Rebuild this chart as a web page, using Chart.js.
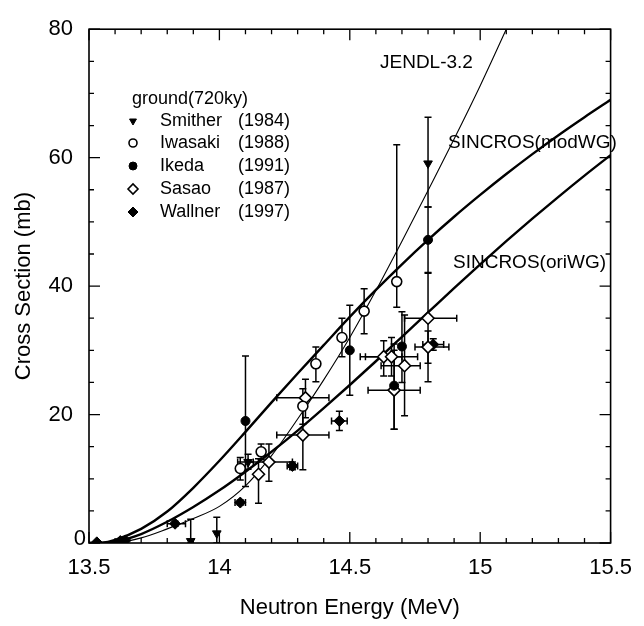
<!DOCTYPE html>
<html><head><meta charset="utf-8">
<script src="https://cdn.jsdelivr.net/npm/chart.js@4/dist/chart.umd.min.js"></script>
<style>html,body{margin:0;padding:0;background:#fff}</style>
</head><body>
<canvas id="c" width="644" height="626"></canvas>
<script>
// ---------- calculated curves ----------
const jendlE = [13.5,13.6,13.7,13.8,13.9,14.0,14.1,14.2,14.3,14.4,14.5,14.6,14.7,14.8,14.9,15.0,15.1,15.15];
const jendlS = [0,0.05,0.8,2.2,3.8,5.7,8.9,13.6,19.3,25.4,32.0,39.3,47.0,54.9,62.9,71.2,80.0,84.5];
const modE = [13.5,13.55,13.6,13.7,13.8,13.9,14.0,14.1,14.2,14.3,14.4,14.5,14.6,14.7,14.8,14.9,15.0,15.1,15.2,15.3,15.4,15.5];
const modS = [0,0.05,0.5,2.2,4.9,8.6,12.8,17.3,21.9,26.4,30.8,35.2,39.4,43.4,47.2,50.8,54.2,57.45,60.55,63.5,66.3,69.0];
const oriE = [13.5,13.55,13.6,13.7,13.8,13.9,14.0,14.1,14.2,14.3,14.4,14.5,14.6,14.7,14.8,14.9,15.0,15.1,15.2,15.3,15.4,15.5];
const oriS = [0,0,0.2,1.4,3.3,5.6,8.2,11.1,14.2,17.5,21.0,24.6,28.3,32.1,35.9,39.7,43.4,47.0,50.5,53.9,57.2,60.4];

// ---------- measurements: energy, sigma, sigma low/high, energy low/high ----------
const smitherE  = [13.89,13.99,14.11,14.80];
const smitherS  = [0.3,1.5,12.6,59.1];
const smitherLo = [0,0,11.5,52.3];
const smitherHi = [3.7,4.0,13.8,66.3];
const smitherXlo= [13.89,13.99,14.07,14.80];
const smitherXhi= [13.89,13.99,14.13,14.80];

const iwasakiE  = [14.08,14.16,14.32,14.37,14.47,14.555,14.68];
const iwasakiS  = [11.6,14.2,21.3,27.9,32.0,36.1,40.7];
const iwasakiLo = [9.8,13.0,18.5,25.1,29.0,32.6,36.7];
const iwasakiHi = [13.3,15.4,24.0,30.5,35.0,39.6,62.0];

const ikedaE  = [14.10,14.50,14.80,14.67,14.70];
const ikedaS  = [19.0,30.0,47.2,24.5,30.6];
const ikedaLo = [8.8,23.0,42.1,17.7,25.0];
const ikedaHi = [29.1,37.0,52.3,31.0,36.0];

const sasaoE  = [14.15,14.19,14.32,14.33,14.63,14.66,14.71,14.67,14.80,14.80];
const sasaoS  = [10.7,12.6,16.8,22.6,29.0,29.0,27.6,23.8,35.0,30.5];
const sasaoLo = [6.2,9.6,11.4,19.5,26.0,26.0,19.8,17.7,25.1,28.0];
const sasaoHi = [13.1,15.4,22.5,25.5,31.5,32.0,35.5,30.0,42.0,33.0];
const sasaoXlo= [14.15,14.11,14.22,14.22,14.54,14.56,14.62,14.57,14.71,14.75];
const sasaoXhi= [14.15,14.28,14.42,14.42,14.70,14.76,14.77,14.77,14.91,14.88];

const wallnerE  = [13.53,13.62,13.64,13.83,14.08,14.28,14.46,14.82];
const wallnerS  = [0.1,0.3,0.4,3.0,6.3,12.0,19.0,30.9];
const wallnerLo = [0.1,0.3,0.4,2.6,5.9,11.4,17.5,30.0];
const wallnerHi = [0.1,0.3,0.4,3.4,6.7,12.6,20.5,31.8];
const wallnerXlo= [13.53,13.62,13.64,13.80,14.06,14.26,14.43,14.78];
const wallnerXhi= [13.53,13.62,13.64,13.87,14.10,14.30,14.49,14.86];

const seriesNames = ['Smither','Iwasaki','Ikeda','Sasao','Wallner'];
const seriesYears = ['(1984)','(1988)','(1991)','(1987)','(1997)'];
const legendTitle = 'ground(720ky)';
const curveNames = ['JENDL-3.2','SINCROS(modWG)','SINCROS(oriWG)'];
const xTicks = [13.5,14,14.5,15,15.5];
const yTicks = [0,20,40,60,80];

// ---------- build datasets ----------
function pts(E,S,lo,hi,xlo,xhi){
  return E.map((e,i)=>({x:e,y:S[i],yMin:lo?lo[i]:S[i],yMax:hi?hi[i]:S[i],xMin:xlo?xlo[i]:e,xMax:xhi?xhi[i]:e}));
}
function curve(E,S){return E.map((e,i)=>({x:e,y:S[i]}));}
const FONT = "'Liberation Sans', Arial, Helvetica, sans-serif";

const markerSets = [
  {label:seriesNames[0], data:pts(smitherE,smitherS,smitherLo,smitherHi,smitherXlo,smitherXhi), pointStyle:'triangle', rotation:180, pointRadius:5, backgroundColor:'#000', borderColor:'#000', borderWidth:1},
  {label:seriesNames[1], data:pts(iwasakiE,iwasakiS,iwasakiLo,iwasakiHi), pointStyle:'circle', pointRadius:5, backgroundColor:'#fff', borderColor:'#000', borderWidth:1.6},
  {label:seriesNames[2], data:pts(ikedaE,ikedaS,ikedaLo,ikedaHi), pointStyle:'circle', pointRadius:4.5, backgroundColor:'#000', borderColor:'#000', borderWidth:1},
  {label:seriesNames[3], data:pts(sasaoE,sasaoS,sasaoLo,sasaoHi,sasaoXlo,sasaoXhi), pointStyle:'rectRot', pointRadius:6, backgroundColor:'#fff', borderColor:'#000', borderWidth:1.6},
  {label:seriesNames[4], data:pts(wallnerE,wallnerS,wallnerLo,wallnerHi,wallnerXlo,wallnerXhi), pointStyle:'rectRot', pointRadius:5.5, backgroundColor:'#000', borderColor:'#000', borderWidth:1}
].map(d=>Object.assign(d,{showLine:false, errorBars:true, pointHoverRadius:d.pointRadius}));

const curveSets = [
  {label:curveNames[0], data:curve(jendlE,jendlS), borderWidth:1.1},
  {label:curveNames[1], data:curve(modE,modS), borderWidth:2.4},
  {label:curveNames[2], data:curve(oriE,oriS), borderWidth:2.4}
].map(d=>Object.assign(d,{showLine:true, pointRadius:0, borderColor:'#000', backgroundColor:'#000', cubicInterpolationMode:'monotone', fill:false}));

// ---------- plugins ----------
const errorBarPlugin = {
  id:'errorBars',
  beforeDatasetsDraw(chart){
    const {ctx, scales:{x,y}} = chart;
    ctx.save();
    ctx.beginPath();
    ctx.rect(chart.chartArea.left, chart.chartArea.top, chart.chartArea.width, chart.chartArea.height);
    ctx.clip();
    ctx.strokeStyle='#000'; ctx.lineWidth=1.5;
    chart.data.datasets.forEach(ds=>{
      if(!ds.errorBars) return;
      ds.data.forEach(p=>{
        const px=x.getPixelForValue(p.x), py=y.getPixelForValue(p.y);
        const c=3.5;
        if(p.yMin!==p.yMax){
          const y1=y.getPixelForValue(p.yMin), y2=y.getPixelForValue(p.yMax);
          ctx.beginPath(); ctx.moveTo(px,y1); ctx.lineTo(px,y2);
          ctx.moveTo(px-c,y1); ctx.lineTo(px+c,y1);
          ctx.moveTo(px-c,y2); ctx.lineTo(px+c,y2); ctx.stroke();
        }
        if(p.xMin!==p.xMax){
          const x1=x.getPixelForValue(p.xMin), x2=x.getPixelForValue(p.xMax);
          ctx.beginPath(); ctx.moveTo(x1,py); ctx.lineTo(x2,py);
          ctx.moveTo(x1,py-c); ctx.lineTo(x1,py+c);
          ctx.moveTo(x2,py-c); ctx.lineTo(x2,py+c); ctx.stroke();
        }
      });
    });
    ctx.restore();
  }
};

const framePlugin = {
  id:'frame',
  afterDraw(chart){
    const {ctx, chartArea:a, scales:{x,y}} = chart;
    ctx.save();
    ctx.strokeStyle='#000'; ctx.lineWidth=1.6;
    ctx.strokeRect(a.left,a.top,a.width,a.height);
    ctx.lineWidth=1.3;
    ctx.beginPath();
    for(let i=0;i<=20;i++){
      const v=13.5+i*0.1, px=x.getPixelForValue(v);
      const L=(i%5===0)?11:5;
      ctx.moveTo(px,a.bottom); ctx.lineTo(px,a.bottom-L);
      ctx.moveTo(px,a.top); ctx.lineTo(px,a.top+L);
    }
    for(let i=0;i<=16;i++){
      const v=i*5, py=y.getPixelForValue(v);
      const L=(i%4===0)?11:5;
      ctx.moveTo(a.left,py); ctx.lineTo(a.left+L,py);
      ctx.moveTo(a.right,py); ctx.lineTo(a.right-L,py);
    }
    ctx.stroke();

    // the zero label sits tight against the corner in the original
    ctx.fillStyle='#000';
    ctx.font='22px '+FONT;
    ctx.textAlign='right'; ctx.textBaseline='middle';
    ctx.fillText(String(yTicks[0]), a.left-3, y.getPixelForValue(yTicks[0])-4);

    // curve labels
    ctx.font='19px '+FONT;
    ctx.textAlign='left';
    ctx.fillText(curveNames[0],380,63);
    ctx.fillText(curveNames[1],448,143);
    ctx.fillText(curveNames[2],453,263);

    // legend
    ctx.font='18px '+FONT;
    ctx.fillText(legendTitle,132,99);
    const rows=[121,143,166,189,212];
    markerSets.forEach((ds,i)=>{
      const r = ds.pointStyle==='rectRot'?5:4;
      ctx.fillStyle=ds.backgroundColor; ctx.strokeStyle='#000'; ctx.lineWidth=ds.borderWidth;
      Chart.helpers.drawPoint(ctx,{pointStyle:ds.pointStyle,rotation:ds.rotation||0,radius:r,borderWidth:ds.borderWidth},133,rows[i]);
      ctx.fillStyle='#000';
      ctx.fillText(seriesNames[i],160,rows[i]);
      ctx.fillText(seriesYears[i],238,rows[i]);
    });
    ctx.restore();
  }
};

new Chart(document.getElementById('c'),{
  type:'scatter',
  data:{datasets:[...markerSets,...curveSets]},
  options:{
    responsive:false, animation:false, devicePixelRatio:1,
    layout:{padding:{top:18,right:26,left:0,bottom:0}},
    plugins:{legend:{display:false}, tooltip:{enabled:false}},
    scales:{
      x:{type:'linear',min:13.5,max:15.5,
        afterBuildTicks(s){s.ticks=xTicks.map(v=>({value:v}));},
        afterFit(s){s.height=83;},
        grid:{display:false,drawTicks:false}, border:{display:false},
        ticks:{color:'#000',font:{family:FONT,size:22},padding:12,maxRotation:0,autoSkip:false,
          callback:v=>String(v)},
        title:{display:true,text:'Neutron Energy (MeV)',color:'#000',font:{family:FONT,size:22},padding:{top:0,bottom:5}}
      },
      y:{type:'linear',min:0,max:80,
        afterBuildTicks(s){s.ticks=yTicks.map(v=>({value:v}));},
        afterFit(s){s.width=89;},
        grid:{display:false,drawTicks:false}, border:{display:false},
        ticks:{color:'#000',font:{family:FONT,size:22},padding:16,autoSkip:false,
          callback:v=>(v===yTicks[0]?'':String(v))},
        title:{display:true,text:'Cross Section (mb)',color:'#000',font:{family:FONT,size:22},padding:{top:11,bottom:0}}
      }
    }
  },
  plugins:[errorBarPlugin,framePlugin]
});
</script>
</body></html>
